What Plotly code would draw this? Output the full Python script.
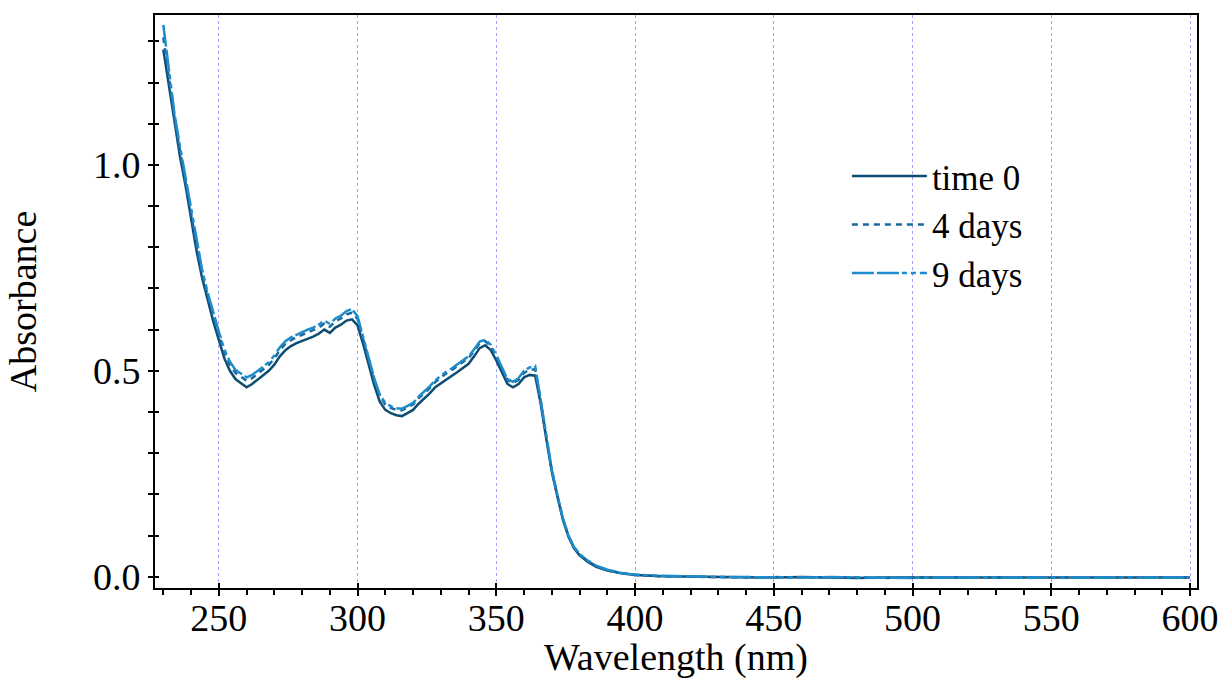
import plotly.graph_objects as go

# ---- data ----
wl = [230, 232, 234, 236, 238, 240, 242, 244, 246, 248,
      250, 252, 254, 256, 258, 260, 262, 264, 266, 268,
      270, 272, 274, 276, 278, 280, 282, 284, 286, 288,
      290, 292, 294, 296, 298, 300, 302, 304, 306, 308,
      310, 312, 314, 316, 318, 320, 322, 324, 326, 328,
      330, 332, 334, 336, 338, 340, 342, 344, 346, 348,
      350, 352, 354, 356, 358, 360, 362, 364, 366, 368,
      370, 372, 374, 376, 378, 380, 383, 386, 390, 395,
      400, 410, 420, 430, 440, 450, 460, 470, 480, 490,
      500, 510, 520, 530, 540, 550, 560, 570, 580, 590, 600]

abs_time0 = [1.280, 1.190, 1.100, 1.020, 0.950, 0.870, 0.790, 0.725, 0.670, 0.620,
             0.575, 0.530, 0.500, 0.480, 0.470, 0.460, 0.468, 0.478, 0.490, 0.500,
             0.515, 0.535, 0.550, 0.560, 0.567, 0.572, 0.578, 0.583, 0.590, 0.600,
             0.592, 0.605, 0.612, 0.622, 0.625, 0.610, 0.565, 0.515, 0.465, 0.425,
             0.405, 0.397, 0.392, 0.390, 0.398, 0.405, 0.420, 0.432, 0.445, 0.460,
             0.470, 0.480, 0.488, 0.497, 0.507, 0.517, 0.535, 0.555, 0.562, 0.550,
             0.525, 0.495, 0.468, 0.460, 0.468, 0.484, 0.490, 0.488, 0.420, 0.335,
             0.255, 0.195, 0.138, 0.097, 0.069, 0.052, 0.036, 0.024, 0.015, 0.008,
             0.004, 0.001, 0.000, -0.001, -0.001, -0.002, -0.001, -0.002, -0.003, -0.002,
             -0.002, -0.003, -0.002, -0.002, -0.003, -0.002, -0.002, -0.003, -0.002, -0.002, -0.002]

abs_4days = [1.310, 1.210, 1.115, 1.035, 0.962, 0.882, 0.802, 0.737, 0.682, 0.632,
             0.588, 0.545, 0.515, 0.495, 0.485, 0.476, 0.482, 0.492, 0.503, 0.514,
             0.530, 0.550, 0.566, 0.575, 0.582, 0.587, 0.593, 0.598, 0.605, 0.615,
             0.607, 0.620, 0.627, 0.637, 0.641, 0.626, 0.580, 0.528, 0.478, 0.438,
             0.418, 0.410, 0.405, 0.404, 0.411, 0.418, 0.433, 0.445, 0.458, 0.473,
             0.484, 0.494, 0.502, 0.511, 0.521, 0.531, 0.548, 0.567, 0.572, 0.560,
             0.535, 0.504, 0.477, 0.470, 0.478, 0.495, 0.503, 0.503, 0.428, 0.340,
             0.258, 0.197, 0.140, 0.099, 0.071, 0.054, 0.038, 0.026, 0.016, 0.009,
             0.004, 0.001, 0.000, -0.001, -0.002, -0.001, -0.002, -0.002, -0.002, -0.003,
             -0.002, -0.002, -0.003, -0.002, -0.002, -0.002, -0.003, -0.002, -0.002, -0.003, -0.002]

abs_9days = [1.340, 1.225, 1.125, 1.045, 0.970, 0.890, 0.810, 0.745, 0.690, 0.640,
             0.595, 0.552, 0.522, 0.502, 0.492, 0.484, 0.490, 0.499, 0.510, 0.521,
             0.537, 0.557, 0.572, 0.581, 0.588, 0.593, 0.600, 0.605, 0.612, 0.622,
             0.614, 0.627, 0.634, 0.645, 0.650, 0.632, 0.585, 0.532, 0.482, 0.442,
             0.422, 0.414, 0.409, 0.408, 0.415, 0.422, 0.437, 0.449, 0.462, 0.477,
             0.488, 0.498, 0.506, 0.515, 0.525, 0.535, 0.552, 0.571, 0.575, 0.563,
             0.538, 0.507, 0.480, 0.473, 0.482, 0.500, 0.508, 0.512, 0.430, 0.342,
             0.260, 0.199, 0.142, 0.100, 0.072, 0.055, 0.039, 0.027, 0.017, 0.009,
             0.005, 0.002, 0.000, -0.001, -0.001, -0.002, -0.002, -0.001, -0.002, -0.002,
             -0.003, -0.002, -0.002, -0.002, -0.003, -0.002, -0.002, -0.002, -0.003, -0.002, -0.002]

series_names = ["time 0", "4 days", "9 days"]
series_colors = ["#0f4c72", "#1768a0", "#1e8bcb"]
series_dash = ["solid", "6px,5px", "22px,3px,22px,3px,5px,4px,5px,4px"]

FONT = "Liberation Serif"
FS = 38
LFS = 35

fig = go.Figure()
for name, ys, col, dsh in zip(series_names, [abs_time0, abs_4days, abs_9days],
                              series_colors, series_dash):
    fig.add_trace(go.Scatter(x=wl, y=ys, mode="lines", name=name,
                             line=dict(color=col, width=2.5, dash=dsh)))

# invisible trace to carry the overlay axes (inner half of crossing ticks)
fig.add_trace(go.Scatter(x=[300], y=[0.5], xaxis="x2", yaxis="y2", mode="markers",
                         marker=dict(opacity=0), showlegend=False, hoverinfo="skip"))

xr = [227, 602.5]
yr = [-0.0275, 1.364]

fig.update_layout(
    width=1222, height=679,
    margin=dict(l=155, r=25, t=15, b=91, autoexpand=False),
    paper_bgcolor="white", plot_bgcolor="white",
    font=dict(family=FONT, size=FS, color="black"),
    showlegend=True,
    legend=dict(x=0.664, y=0.77, xanchor="left", yanchor="top",
                bgcolor="rgba(0,0,0,0)", borderwidth=0,
                font=dict(family=FONT, size=LFS, color="black"),
                itemwidth=75, tracegroupgap=0),
    xaxis=dict(range=xr, showline=True, linecolor="black", linewidth=2, mirror=True,
               automargin=False,
               ticks="outside", ticklen=6, tickwidth=2, tickcolor="black",
               tick0=250, dtick=50, showgrid=True, gridcolor="#a3a3ff", gridwidth=1,
               griddash="dot", zeroline=False, ticklabelstandoff=-11,
               minor=dict(ticks="outside", ticklen=5, tickwidth=1.5, tickcolor="black",
                          dtick=10, tick0=250, showgrid=False),
               title=dict(text="Wavelength (nm)", standoff=0,
                          font=dict(family=FONT, size=FS)),
               tickfont=dict(family=FONT, size=FS)),
    yaxis=dict(range=yr, showline=True, linecolor="black", linewidth=2, mirror=True,
               automargin=False,
               ticks="outside", ticklen=5, tickwidth=2, tickcolor="black",
               tick0=0, dtick=0.5, tickformat=".1f", showgrid=False, zeroline=False,
               minor=dict(ticks="outside", ticklen=5, tickwidth=1.5, tickcolor="black",
                          dtick=0.1, tick0=0, showgrid=False),
               title=dict(text="Absorbance", standoff=45,
                          font=dict(family=FONT, size=FS)),
               tickfont=dict(family=FONT, size=FS)),
    xaxis2=dict(range=xr, overlaying="x", side="bottom", showline=False, automargin=False,
                ticks="inside", ticklen=5, tickwidth=2, tickcolor="black",
                tick0=250, dtick=50, showticklabels=False, showgrid=False, zeroline=False),
    yaxis2=dict(range=yr, overlaying="y", side="left", showline=False, automargin=False,
                ticks="inside", ticklen=4, tickwidth=2, tickcolor="black",
                tick0=0, dtick=0.1, showticklabels=False, showgrid=False, zeroline=False),
)

fig.write_html("out.html", config={"displayModeBar": False},
               post_script="document.body.style.margin='0';document.body.style.overflow='hidden';")
